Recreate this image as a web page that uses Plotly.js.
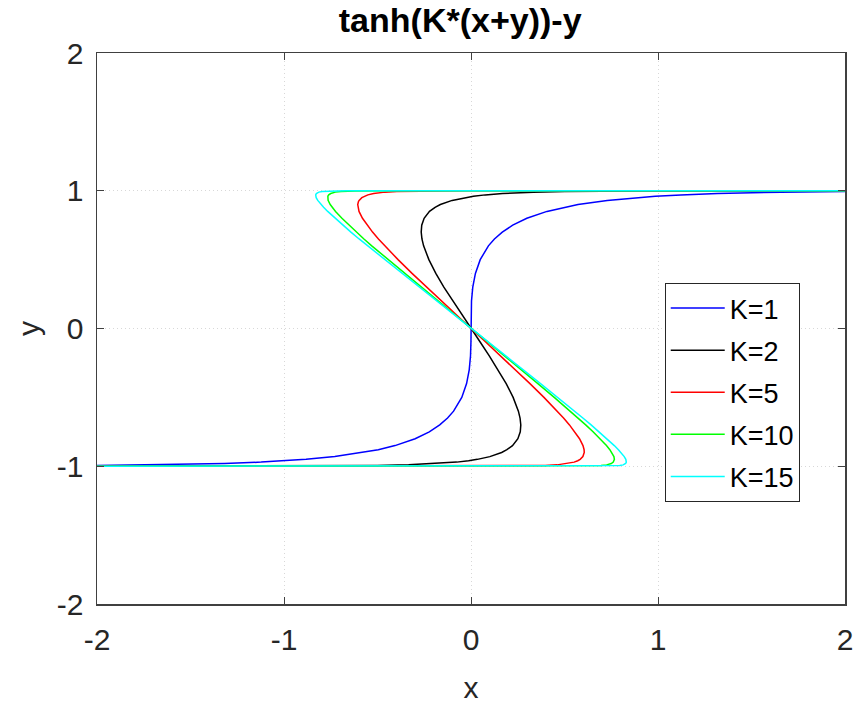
<!DOCTYPE html>
<html>
<head>
<meta charset="utf-8">
<script src="https://cdn.plot.ly/plotly-3.0.1.min.js"></script>
<style>html,body{margin:0;padding:0;background:#fff;}#plot{width:865px;height:707px;}</style>
</head>
<body>
<div id="plot"></div>
<script>
// Series names
const seriesNames = ["K=1", "K=2", "K=5", "K=10", "K=15"];
const seriesColors = ["#0000ff", "#000000", "#ff0000", "#00ff00", "#00ffff"];

// K=1 curve points
const yK1 = [-0.995,-0.99,-0.98,-0.97,-0.96,-0.95,-0.93,-0.9,-0.88,-0.85,-0.8,-0.75,-0.7,-0.65,-0.6,-0.5,-0.4,-0.3,-0.2,-0.1,0,0.1,0.2,0.3,0.4,0.5,0.6,0.65,0.7,0.75,0.8,0.85,0.88,0.9,0.93,0.95,0.96,0.97,0.98,0.99,0.995];
const xK1 = [-2.0,-1.6567,-1.3176,-1.1223,-0.9859,-0.8818,-0.7284,-0.5722,-0.4958,-0.4062,-0.2986,-0.223,-0.1673,-0.1253,-0.0931,-0.0493,-0.0236,-0.0095,-0.0027,-0.0003,0,0.0003,0.0027,0.0095,0.0236,0.0493,0.0931,0.1253,0.1673,0.223,0.2986,0.4062,0.4958,0.5722,0.7284,0.8818,0.9859,1.1223,1.3176,1.6567,2.0];

// K=2
const yK2 = [-0.99999,-0.99998,-0.9999,-0.9995,-0.999,-0.995,-0.99,-0.98,-0.97,-0.96,-0.95,-0.93,-0.9,-0.88,-0.85,-0.8,-0.75,-0.7,-0.65,-0.6,-0.5,-0.4,-0.3,-0.2,-0.1,0,0.1,0.2,0.3,0.4,0.5,0.6,0.65,0.7,0.75,0.8,0.85,0.88,0.9,0.93,0.95,0.96,0.97,0.98,0.99,0.995,0.999,0.9995,0.9999,0.99998,0.99999];
const xK2 = [-2.0,-1.878,-1.476,-1.0739,-0.9011,-0.5023,-0.3334,-0.1688,-0.0762,-0.0130,0.0341,0.1008,0.1639,0.1921,0.2219,0.2507,0.2635,0.2663,0.2623,0.2534,0.2253,0.1882,0.1452,0.0986,0.0498,0,-0.0498,-0.0986,-0.1452,-0.1882,-0.2253,-0.2534,-0.2623,-0.2663,-0.2635,-0.2507,-0.2219,-0.1921,-0.1639,-0.1008,-0.0341,0.0130,0.0762,0.1688,0.3334,0.5023,0.9011,1.0739,1.476,1.878,2.0];

// K=5
const yK5 = [-1,-0.99999,-0.9999,-0.999,-0.995,-0.99,-0.98,-0.97,-0.96,-0.95,-0.93,-0.92,-0.9,-0.88,-0.85,-0.8,-0.75,-0.7,-0.65,-0.6,-0.5,-0.4,-0.3,-0.2,-0.1,0,0.1,0.2,0.3,0.4,0.5,0.6,0.65,0.7,0.75,0.8,0.85,0.88,0.9,0.92,0.93,0.95,0.96,0.97,0.98,0.99,0.995,0.999,0.9999,0.99999,1];
const xK5 = [-2.0,-0.2206,0.0096,0.239,0.3961,0.4607,0.5205,0.5515,0.5708,0.5836,0.5983,0.6022,0.6056,0.6048,0.5988,0.5803,0.5554,0.5265,0.4949,0.4614,0.3901,0.3153,0.2381,0.1595,0.0799,0,-0.0799,-0.1595,-0.2381,-0.3153,-0.3901,-0.4614,-0.4949,-0.5265,-0.5554,-0.5803,-0.5988,-0.6048,-0.6056,-0.6022,-0.5983,-0.5836,-0.5708,-0.5515,-0.5205,-0.4607,-0.3961,-0.239,-0.0096,0.2206,2.0];

// K=10
const yK10 = [-1,-0.99999,-0.9999,-0.999,-0.995,-0.99,-0.98,-0.97,-0.96,-0.95,-0.93,-0.9,-0.88,-0.85,-0.8,-0.75,-0.7,-0.65,-0.6,-0.5,-0.4,-0.3,-0.2,-0.1,0,0.1,0.2,0.3,0.4,0.5,0.6,0.65,0.7,0.75,0.8,0.85,0.88,0.9,0.93,0.95,0.96,0.97,0.98,0.99,0.995,0.999,0.9999,0.99999,1];
const xK10 = [-2.0,0.3897,0.5047,0.619,0.6955,0.7253,0.7502,0.7608,0.7654,0.7668,0.7642,0.7528,0.7424,0.7244,0.6901,0.6527,0.6133,0.5725,0.5307,0.4451,0.3576,0.2690,0.1797,0.0900,0,-0.0900,-0.1797,-0.2690,-0.3576,-0.4451,-0.5307,-0.5725,-0.6133,-0.6527,-0.6901,-0.7244,-0.7424,-0.7528,-0.7642,-0.7668,-0.7654,-0.7608,-0.7502,-0.7253,-0.6955,-0.619,-0.5047,-0.3897,2.0];

// K=15
const yK15 = [-1,-0.99999,-0.9999,-0.999,-0.995,-0.99,-0.98,-0.97,-0.96,-0.95,-0.93,-0.9,-0.88,-0.85,-0.8,-0.75,-0.7,-0.65,-0.6,-0.5,-0.4,-0.3,-0.2,-0.1,0,0.1,0.2,0.3,0.4,0.5,0.6,0.65,0.7,0.75,0.8,0.85,0.88,0.9,0.93,0.95,0.96,0.97,0.98,0.99,0.995,0.999,0.9999,0.99999,1];
const xK15 = [-2.0,0.5931,0.6698,0.7457,0.7954,0.8136,0.8268,0.8305,0.8303,0.8279,0.8194,0.8019,0.7883,0.7663,0.7268,0.6851,0.6422,0.5983,0.5538,0.4634,0.3718,0.2794,0.1865,0.0933,0,-0.0933,-0.1865,-0.2794,-0.3718,-0.4634,-0.5538,-0.5983,-0.6422,-0.6851,-0.7268,-0.7663,-0.7883,-0.8019,-0.8194,-0.8279,-0.8303,-0.8305,-0.8268,-0.8136,-0.7954,-0.7457,-0.6698,-0.5931,2.0];

// Tick values
const tickVals = [-2, -1, 0, 1, 2];
const tickText = ["-2", "-1", "0", "1", "2"];

const xs = [xK1, xK2, xK5, xK10, xK15];
const ys = [yK1, yK2, yK5, yK10, yK15];

const FONT = "Liberation Sans, Arial, sans-serif";

const traces = seriesNames.map((name, i) => ({
  type: "scatter",
  mode: "lines",
  x: xs[i],
  y: ys[i],
  name: name,
  legendgroup: "g" + i,
  line: {color: seriesColors[i], width: 1.5},
  hoverinfo: "skip"
}));

const axisCommon = {
  range: [-2, 2],
  tickvals: tickVals,
  ticktext: tickText,
  ticks: "inside",
  ticklen: 7,
  tickwidth: 1,
  tickcolor: "#404040",
  showline: true,
  linecolor: "#404040",
  linewidth: 1.5,
  mirror: "ticks",
  showgrid: true,
  gridcolor: "#d8d8d8",
  griddash: "1px,3px",
  gridwidth: 1,
  zeroline: false,
  tickfont: {family: FONT, size: 30, color: "#262626"},
  fixedrange: true
};

const layout = {
  width: 865,
  height: 707,
  margin: {l: 97, r: 20, t: 53, b: 103},
  paper_bgcolor: "#ffffff",
  plot_bgcolor: "#ffffff",
  showlegend: true,
  title: {
    text: "<b>tanh(K*(x+y))-y</b>",
    font: {family: FONT, size: 34, color: "#000000"},
    x: 0.532, xanchor: "center",
    y: 0.971, yanchor: "middle"
  },
  xaxis: Object.assign({}, axisCommon, {
    title: {text: "x", font: {family: FONT, size: 30, color: "#262626"}, standoff: 22},
    ticklabelstandoff: 8
  }),
  yaxis: Object.assign({}, axisCommon, {
    title: {text: "y", font: {family: FONT, size: 30, color: "#262626"}, standoff: 8},
    ticklabelstandoff: 6
  }),
  legend: {
    x: 0.759, xanchor: "left",
    y: 0.5826, yanchor: "top",
    bgcolor: "#ffffff",
    bordercolor: "#262626",
    borderwidth: 1,
    traceorder: "grouped",
    tracegroupgap: 4,
    itemwidth: 54,
    font: {family: FONT, size: 27, color: "#000000"}
  }
};

Plotly.newPlot("plot", traces, layout, {displayModeBar: false, staticPlot: true});
</script>
</body>
</html>
